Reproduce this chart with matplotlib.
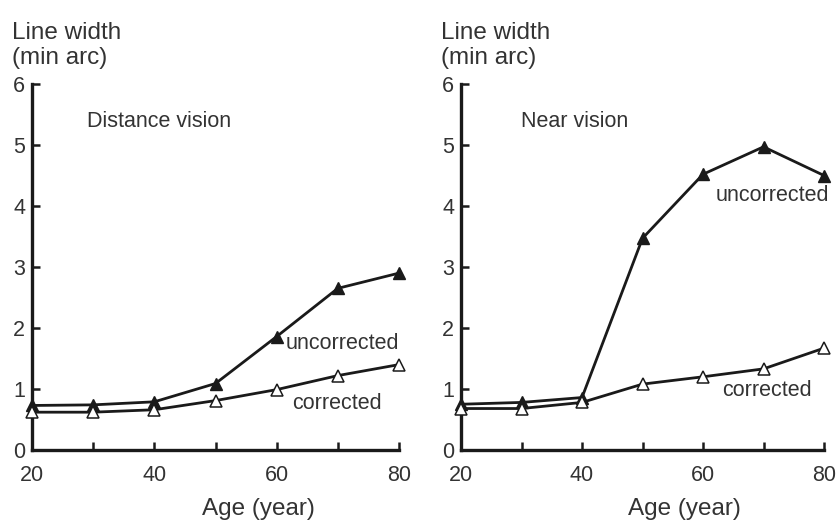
import matplotlib.pyplot as plt

plt.rcParams['font.family'] = ['Liberation Sans', 'DejaVu Sans']

# age groups (years)
ages = [20, 30, 40, 50, 60, 70, 80]

# distance vision, line width in min arc
dist_uncorr = [0.73, 0.74, 0.79, 1.09, 1.86, 2.65, 2.90]
dist_corr = [0.62, 0.62, 0.66, 0.81, 0.99, 1.22, 1.40]

# near vision
near_uncorr = [0.75, 0.78, 0.86, 3.47, 4.52, 4.97, 4.50]
near_corr = [0.68, 0.68, 0.78, 1.08, 1.20, 1.33, 1.67]

panels = [
    ("Distance vision", dist_uncorr, dist_corr, (29.0, 5.38), (61.4, 1.75), (62.5, 0.77)),
    ("Near vision", near_uncorr, near_corr, (29.9, 5.38), (62.1, 4.18), (63.1, 0.98)),
]

W, H = 840, 522
fig = plt.figure(figsize=(W / 100, H / 100), dpi=100)
axes_px = [(32, 399), (461, 824)]
top_px, bot_px = 84, 450

ink = '#1a1a1a'
txt = '#333333'

for (x0, x1), (title, unc, cor, tpos, upos, cpos) in zip(axes_px, panels):
    ax = fig.add_axes([x0 / W, 1 - bot_px / H, (x1 - x0) / W, (bot_px - top_px) / H])

    ax.plot(ages, unc, color=ink, lw=2.0, marker='^', ms=8, mfc=ink, mec=ink, clip_on=False, zorder=3)
    ax.plot(ages, cor, color=ink, lw=2.0, marker='^', ms=8, mfc='white', mec=ink, mew=1.1, clip_on=False, zorder=3)

    ax.set_xlim(20, 80)
    ax.set_ylim(0, 6)
    ax.set_xticks(range(20, 81, 10))
    ax.set_xticklabels(['20', '', '40', '', '60', '', '80'])
    ax.set_yticks(range(0, 7))

    for s in ['top', 'right']:
        ax.spines[s].set_visible(False)
    for s in ['left', 'bottom']:
        ax.spines[s].set_linewidth(2.4)
        ax.spines[s].set_color(ink)
    ax.tick_params(direction='in', length=6, width=1.8, color=ink, labelsize=15.5, labelcolor=txt)
    ax.tick_params(axis='x', pad=11)
    ax.tick_params(axis='y', pad=5)

    ax.text(tpos[0], tpos[1], title, fontsize=15.5, color=txt, ha='left', va='center')
    ax.text(upos[0], upos[1], 'uncorrected', fontsize=15.5, color=txt, ha='left', va='center')
    ax.text(cpos[0], cpos[1], 'corrected', fontsize=15.5, color=txt, ha='left', va='center')

    ax.annotate('Line width\n(min arc)', xy=(0, 1), xycoords='axes fraction',
                xytext=(-20, 15), textcoords='offset pixels', ha='left', va='bottom',
                fontsize=17.5, color=txt, linespacing=1.2)
    ax.annotate('Age (year)', xy=(57, 0), xycoords='data',
                xytext=(0, -48), textcoords='offset pixels', ha='center', va='top',
                fontsize=17.5, color=txt, annotation_clip=False)

fig.savefig('out.png', dpi=100)
